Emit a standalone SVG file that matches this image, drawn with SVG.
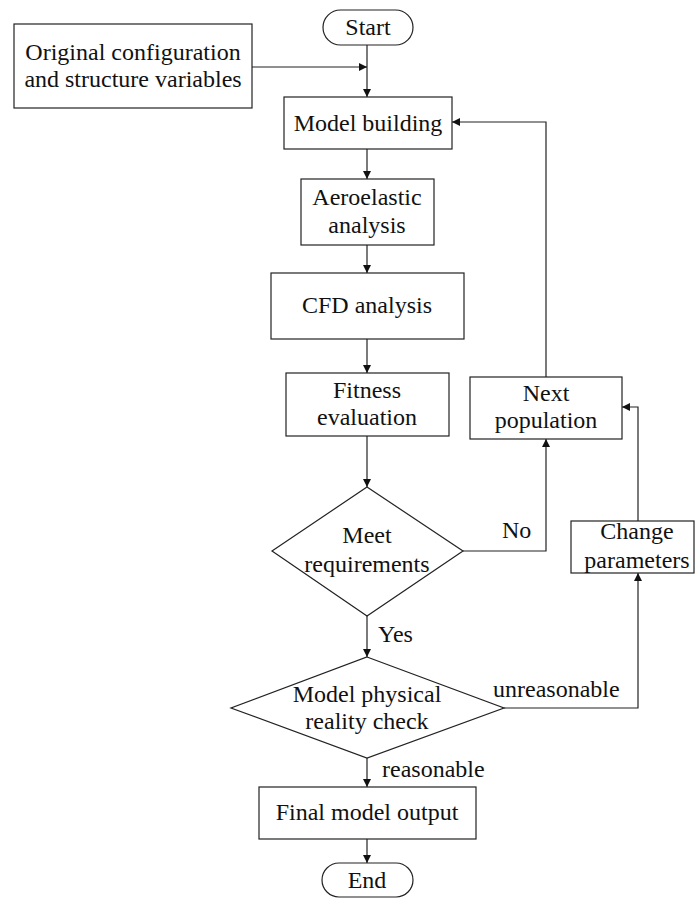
<svg xmlns="http://www.w3.org/2000/svg" width="696" height="898" viewBox="0 0 696 898">
<style>
.n{fill:#fff;stroke:#222;stroke-width:1.2}
.t{text-anchor:middle}
.c{fill:none;stroke:#222;stroke-width:1.2}
</style>
<defs>
<marker id="a" viewBox="0 0 10 10" refX="10" refY="5" markerWidth="8" markerHeight="8" markerUnits="userSpaceOnUse" orient="auto">
<path d="M0,0 L10,5 L0,10 Z" fill="#111"/>
</marker>
</defs>
<rect width="696" height="898" fill="#fff"/>
<g font-family="Liberation Serif, Times New Roman, serif" font-size="24" fill="#111">
<g id="connectors">
<path class="c" d="M367,45 V97" marker-end="url(#a)"/>
<path class="c" d="M252,67 H367" marker-end="url(#a)"/>
<path class="c" d="M367,149 V179" marker-end="url(#a)"/>
<path class="c" d="M367,245 V273" marker-end="url(#a)"/>
<path class="c" d="M367,339 V373" marker-end="url(#a)"/>
<path class="c" d="M367,436 V487" marker-end="url(#a)"/>
<path class="c" d="M367,616 V657" marker-end="url(#a)"/>
<path class="c" d="M367,758 V787" marker-end="url(#a)"/>
<path class="c" d="M367,839 V863" marker-end="url(#a)"/>
<path class="c" d="M463,551 H546 V439" marker-end="url(#a)"/>
<path class="c" d="M546,377 V122 H452" marker-end="url(#a)"/>
<path class="c" d="M504,708 H638 V573" marker-end="url(#a)"/>
<path class="c" d="M638,521 V407 H622" marker-end="url(#a)"/>
<text x="502" y="538">No</text>
<text x="378" y="642">Yes</text>
<text x="493" y="697">unreasonable</text>
<text x="382" y="777">reasonable</text>
</g>
<g id="start">
<rect class="n" x="323" y="10" width="90" height="35" rx="17.5"/>
<text class="t" x="368" y="35">Start</text>
</g>
<g id="original">
<rect class="n" x="14" y="24" width="238" height="84"/>
<text class="t" x="133" y="60">Original configuration</text>
<text class="t" x="133" y="87">and structure variables</text>
</g>
<g id="model-building">
<rect class="n" x="284" y="97" width="168" height="52"/>
<text class="t" x="368" y="131">Model building</text>
</g>
<g id="aeroelastic">
<rect class="n" x="301" y="179" width="133" height="66"/>
<text class="t" x="367" y="205">Aeroelastic</text>
<text class="t" x="367" y="233">analysis</text>
</g>
<g id="cfd">
<rect class="n" x="271" y="273" width="193" height="66"/>
<text class="t" x="367" y="313">CFD analysis</text>
</g>
<g id="fitness">
<rect class="n" x="286" y="373" width="163" height="63"/>
<text class="t" x="367" y="398">Fitness</text>
<text class="t" x="367" y="425">evaluation</text>
</g>
<g id="next-population">
<rect class="n" x="470" y="377" width="152" height="62"/>
<text class="t" x="546" y="401">Next</text>
<text class="t" x="546" y="428">population</text>
</g>
<g id="meet-requirements">
<polygon class="n" points="367,487 463,551 367,616 272,551"/>
<text class="t" x="367" y="543">Meet</text>
<text class="t" x="367" y="572">requirements</text>
</g>
<g id="change-parameters">
<rect class="n" x="571" y="521" width="123" height="52"/>
<text class="t" x="637" y="539">Change</text>
<text class="t" x="637" y="568">parameters</text>
</g>
<g id="reality-check">
<polygon class="n" points="367,657 504,708 367,758 231,708"/>
<text class="t" x="367" y="702">Model physical</text>
<text class="t" x="367" y="729">reality check</text>
</g>
<g id="final-output">
<rect class="n" x="259" y="787" width="217" height="52"/>
<text class="t" x="367" y="820">Final model output</text>
</g>
<g id="end">
<rect class="n" x="322" y="863" width="91" height="34" rx="17"/>
<text class="t" x="367" y="888">End</text>
</g>
</g>
</svg>
